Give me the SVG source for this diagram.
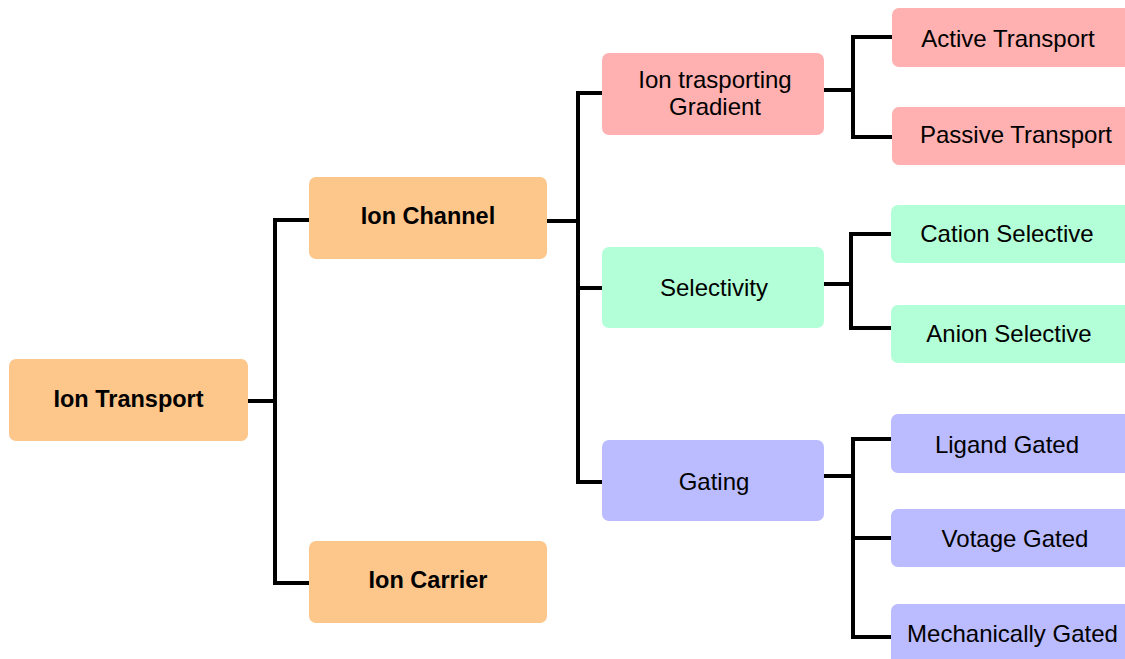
<svg xmlns="http://www.w3.org/2000/svg" width="1125" height="659" viewBox="0 0 1125 659">
<style>
.box{stroke:none}
.o{fill:#FDC68B}
.p{fill:#FFB0B0}
.g{fill:#B3FFD7}
.v{fill:#BBBBFF}
.t{font-family:"Liberation Sans",Arial,sans-serif;font-size:24px;fill:#000;text-anchor:middle}
.b{font-weight:bold;font-size:23.5px}
.c{fill:none;stroke:#000;stroke-width:4;stroke-linecap:square;stroke-linejoin:miter}
</style>
<rect width="1125" height="659" fill="#fff"/>
<g id="connectors">
<path class="c" d="M248 401 H275 M275 220 V583 M275 220 H309 M275 583 H309"/>
<path class="c" d="M547 221 H578 M578 93 V482 M578 93 H602 M578 288 H602 M578 482 H602"/>
<path class="c" d="M824 90 H853 M853 37 V137 M853 37 H892 M853 137 H892"/>
<path class="c" d="M824 284 H851 M851 234 V328 M851 234 H891 M851 328 H891"/>
<path class="c" d="M824 476 H853 M853 439 V637 M853 439 H891 M853 538 H891 M853 637 H891"/>
</g>
<g id="ion-transport"><rect class="box o" x="9" y="359" width="239" height="82" rx="7"/><text class="t b" x="128.5" y="407">Ion Transport</text></g>
<g id="ion-channel"><rect class="box o" x="309" y="177" width="238" height="82" rx="7"/><text class="t b" x="428" y="224">Ion Channel</text></g>
<g id="ion-carrier"><rect class="box o" x="309" y="541" width="238" height="82" rx="7"/><text class="t b" x="428" y="588">Ion Carrier</text></g>
<g id="gradient"><rect class="box p" x="602" y="53" width="222" height="82" rx="7"/><text class="t" x="715" y="88">Ion trasporting</text><text class="t" x="715" y="115">Gradient</text></g>
<g id="selectivity"><rect class="box g" x="602" y="247" width="222" height="81" rx="7"/><text class="t" x="714" y="296">Selectivity</text></g>
<g id="gating"><rect class="box v" x="602" y="440" width="222" height="81" rx="7"/><text class="t" x="714" y="490">Gating</text></g>
<g id="active"><rect class="box p" x="892" y="8" width="245" height="59" rx="7"/><text class="t" x="1008" y="47">Active Transport</text></g>
<g id="passive"><rect class="box p" x="892" y="107" width="245" height="58" rx="7"/><text class="t" x="1016" y="143">Passive Transport</text></g>
<g id="cation"><rect class="box g" x="891" y="205" width="245" height="58" rx="7"/><text class="t" x="1007" y="242">Cation Selective</text></g>
<g id="anion"><rect class="box g" x="891" y="305" width="245" height="58" rx="7"/><text class="t" x="1009" y="342">Anion Selective</text></g>
<g id="ligand"><rect class="box v" x="891" y="414" width="245" height="59" rx="7"/><text class="t" x="1007" y="453">Ligand Gated</text></g>
<g id="voltage"><rect class="box v" x="891" y="509" width="245" height="58" rx="7"/><text class="t" x="1015" y="547">Votage Gated</text></g>
<g id="mechanical"><rect class="box v" x="891" y="604" width="245" height="70" rx="7"/><text class="t" x="1012.5" y="642">Mechanically Gated</text></g>
</svg>
